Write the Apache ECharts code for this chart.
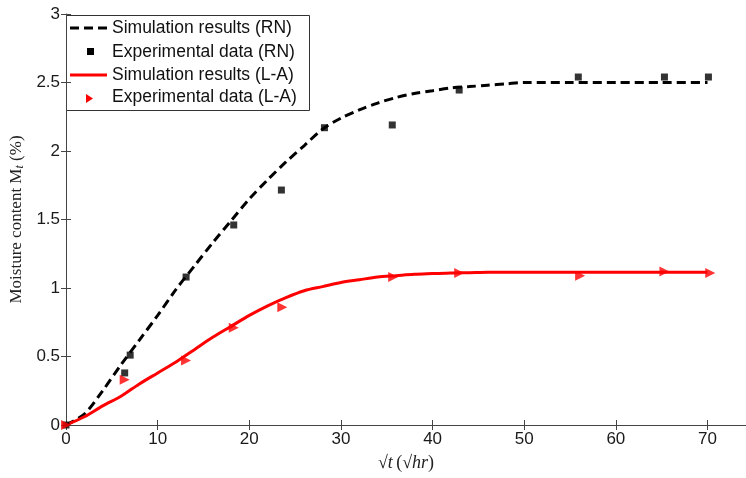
<!DOCTYPE html>
<html>
<head>
<meta charset="utf-8">
<script src="https://cdn.jsdelivr.net/npm/echarts@6/dist/echarts.min.js"></script>
<style>
  html, body { margin: 0; padding: 0; background: #fff; }
  #chart { width: 746px; height: 478px; }
</style>
</head>
<body>
<div id="chart"></div>
<script>
// simulation curves (sqrt hr, %)
const simX = [0, 2, 4, 6, 8, 10, 12, 14, 16, 18, 20, 22, 24, 26, 28, 30, 32, 34, 36, 38, 40, 42, 44, 46, 48, 50, 55, 60, 65, 70];
const simRN = [0, 0.08, 0.25, 0.44, 0.62, 0.80, 0.99, 1.16, 1.33, 1.49, 1.65, 1.79, 1.92, 2.04, 2.16, 2.24, 2.30, 2.35, 2.39, 2.42, 2.44, 2.46, 2.47, 2.48, 2.49, 2.50, 2.50, 2.50, 2.50, 2.50];
const simLA = [0, 0.06, 0.14, 0.21, 0.30, 0.38, 0.46, 0.55, 0.64, 0.72, 0.80, 0.87, 0.93, 0.98, 1.01, 1.04, 1.06, 1.08, 1.09, 1.10, 1.105, 1.11, 1.112, 1.115, 1.115, 1.115, 1.115, 1.115, 1.115, 1.115];

// experimental points
const expRNx = [0, 6.4, 7.0, 13.1, 18.3, 23.5, 28.2, 35.6, 42.9, 55.9, 65.3, 70.1];
const expRNy = [0, 0.38, 0.51, 1.08, 1.46, 1.715, 2.17, 2.19, 2.445, 2.54, 2.54, 2.54];
const expLAx = [0, 6.4, 13.1, 18.3, 23.6, 35.7, 42.9, 56.1, 65.3, 70.3];
const expLAy = [0, 0.33, 0.47, 0.71, 0.86, 1.08, 1.11, 1.09, 1.12, 1.11];

const zip = (xs, ys) => xs.map((x, i) => [x, ys[i]]);

let chart = echarts.init(document.getElementById('chart'));

const axisLine = { show: true, lineStyle: { color: '#444', width: 1 } };
const tickIn = { show: true, inside: true, length: 5, lineStyle: { color: '#444' } };
const labelFont = { color: '#1a1a1a', fontSize: 17, fontFamily: 'Liberation Sans, Arial, sans-serif' };
const legendFont = '17.5px "Liberation Sans", Arial, sans-serif';

let option = {
  backgroundColor: '#fff',
  animation: false,
  // the plot box runs a little past the right edge of the picture (x max 75 is cropped)
  grid: { left: 63, top: 14, right: 0, bottom: 53 },
  xAxis: [
    {
      type: 'value', min: 0, max: 74.2, interval: 10,
      axisLine: axisLine, axisTick: tickIn, splitLine: { show: false },
      axisLabel: Object.assign({ margin: 6, showMaxLabel: false }, labelFont),
      name: '{n|√}{i|t} {n|(√}{i|hr}{n|)}',
      nameLocation: 'middle', nameGap: 29,
      nameTextStyle: {
        rich: {
          n: { fontFamily: 'Liberation Serif, serif', fontSize: 18, color: '#222' },
          i: { fontFamily: 'Liberation Serif, serif', fontSize: 18, fontStyle: 'italic', color: '#222' }
        }
      }
    },
    {
      type: 'value', position: 'top', min: 0, max: 74.2, interval: 10,
      axisLine: axisLine, axisTick: tickIn, axisLabel: { show: false }, splitLine: { show: false }
    }
  ],
  yAxis: [
    {
      type: 'value', min: 0, max: 3, interval: 0.5,
      axisLine: axisLine, axisTick: tickIn, splitLine: { show: false },
      axisLabel: Object.assign({ margin: 6 }, labelFont),
      name: '{n|Moisture content M}{s|t}{n| (%)}',
      nameLocation: 'middle', nameGap: 38,
      nameTextStyle: {
        rich: {
          n: { fontFamily: 'Liberation Serif, serif', fontSize: 17, color: '#222' },
          s: { fontFamily: 'Liberation Serif, serif', fontSize: 12, fontStyle: 'italic', color: '#222', verticalAlign: 'bottom', padding: [6, 0, 0, 0] }
        }
      }
    },
    {
      type: 'value', position: 'right', min: 0, max: 3, interval: 0.5,
      axisLine: { show: false }, axisTick: tickIn, axisLabel: { show: false }, splitLine: { show: false }
    }
  ],
  series: [
    {
      name: 'Simulation results (RN)',
      type: 'line',
      data: zip(simX, simRN),
      smooth: 0.3,
      showSymbol: false,
      lineStyle: { color: '#000', width: 3, type: [9, 5] },
      z: 2
    },
    {
      name: 'Simulation results (L-A)',
      type: 'line',
      data: zip(simX, simLA),
      smooth: 0.3,
      showSymbol: false,
      lineStyle: { color: '#ff0000', width: 3 },
      z: 2
    },
    {
      name: 'Experimental data (RN)',
      type: 'scatter',
      data: zip(expRNx, expRNy),
      symbol: 'rect',
      symbolSize: 7,
      itemStyle: { color: '#000' },
      z: 3
    },
    {
      name: 'Experimental data (L-A)',
      type: 'scatter',
      data: zip(expLAx, expLAy),
      symbol: 'triangle',
      symbolRotate: -90,
      symbolSize: 10,
      itemStyle: { color: '#ff0000' },
      z: 3
    }
  ],
  graphic: [
    {
      type: 'group', z: 100,
      children: [
        { type: 'rect', shape: { x: 66.5, y: 15.5, width: 243, height: 95 }, style: { fill: '#fff', stroke: '#333', lineWidth: 1 } },
        { type: 'line', shape: { x1: 70, y1: 28, x2: 107, y2: 28 }, style: { stroke: '#000', lineWidth: 3, lineDash: [9, 5] } },
        { type: 'rect', shape: { x: 87, y: 48, width: 7, height: 7 }, style: { fill: '#000' } },
        { type: 'line', shape: { x1: 70, y1: 75, x2: 107, y2: 75 }, style: { stroke: '#ff0000', lineWidth: 3 } },
        { type: 'polygon', shape: { points: [[86, 94], [86, 103], [93, 98.5]] }, style: { fill: '#ff0000' } },
        { type: 'text', x: 112, y: 28, style: { text: 'Simulation results (RN)', fill: '#111', font: legendFont, verticalAlign: 'middle' } },
        { type: 'text', x: 112, y: 52, style: { text: 'Experimental data (RN)', fill: '#111', font: legendFont, verticalAlign: 'middle' } },
        { type: 'text', x: 112, y: 75, style: { text: 'Simulation results (L-A)', fill: '#111', font: legendFont, verticalAlign: 'middle' } },
        { type: 'text', x: 112, y: 97, style: { text: 'Experimental data (L-A)', fill: '#111', font: legendFont, verticalAlign: 'middle' } }
      ]
    }
  ]
};
chart.setOption(option);
</script>
</body>
</html>
